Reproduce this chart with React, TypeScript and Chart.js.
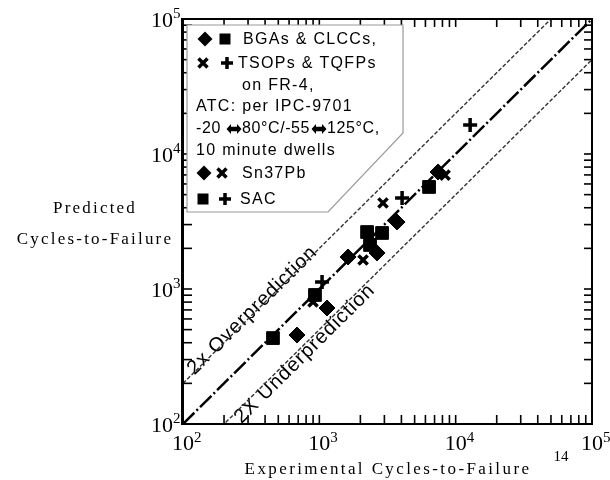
import React, { useEffect, useRef } from 'react';
import { Chart, registerables } from 'chart.js';

Chart.register(...registerables);

// ---- data ----
const SN_BGA_X = [686, 1138, 1625, 2650, 3715, 7430];
const SN_BGA_Y = [456, 723, 1726, 1849, 3133, 7360];
const SAC_BGA_X = [457, 929, 2240, 2885, 2355, 6380];
const SAC_BGA_Y = [433, 903, 2642, 2600, 2119, 5700];
const SN_TSOP_X = [899, 2093, 2931, 8360];
const SN_TSOP_Y = [802, 1640, 4337, 6980];
const SAC_TSOP_X = [1047, 4046, 12770];
const SAC_TSOP_Y = [1127, 4718, 16400];

const AXIS_MIN = 100;
const AXIS_MAX = 100000;
const DECADES = [100, 1000, 10000, 100000];
const DECADE_EXP = ['2', '3', '4', '5'];
const TICK_VALUES = [
  100, 200, 300, 400, 500, 600, 700, 800, 900,
  1000, 2000, 3000, 4000, 5000, 6000, 7000, 8000, 9000,
  10000, 20000, 30000, 40000, 50000, 60000, 70000, 80000, 90000,
  100000,
];
const LINE_X = [100, 100000];
const RATIO_ONE = 1;
const RATIO_OVER = 2;
const RATIO_UNDER = 0.5;

const X_TITLE = 'Experimental Cycles-to-Failure';
const Y_TITLE = ['Predicted', 'Cycles-to-Failure'];
const STRAY_TEXT = '14';
const OVER_TEXT = '2x Overprediction';
const UNDER_TEXT = '2X Underprediction';
const OVER_LABEL_X = 335;
const UNDER_LABEL_X = 720;

const LEGEND_TEXT = [
  'BGAs & CLCCs,',
  'TSOPs & TQFPs',
  'on FR-4,',
  'ATC: per IPC-9701',
  '',
  '10 minute dwells',
  'Sn37Pb',
  'SAC',
];
const ATC_PARTS = ['-20', '80\u00B0C/-55', '125\u00B0C,'];

// ---- layout (pixels) ----
const LEGEND_ROWS = [
  { y: 39, tx: 243, marks: [['diamond', 205], ['square', 225]] },
  { y: 63, tx: 238, marks: [['x', 203], ['plus', 227]] },
  { y: 85, tx: 242, marks: [] },
  { y: 106, tx: 196, marks: [] },
  { y: 128, tx: 196, marks: [] },
  { y: 150, tx: 196, marks: [] },
  { y: 173, tx: 242, marks: [['diamond', 204], ['x', 222]] },
  { y: 199, tx: 240, marks: [['square', 203], ['plus', 225]] },
];
const ATC_PART_X = [196, 242, 327];
const ATC_ARROW_X = [234, 319];
const LEGEND_POLY = [
  [187, 25], [403, 25], [403, 133], [328, 212], [187, 212],
];

function drawMark(ctx: CanvasRenderingContext2D, kind: string, x: number, y: number) {
  ctx.save();
  ctx.setLineDash([]);
  ctx.fillStyle = '#000';
  ctx.strokeStyle = '#000';
  if (kind === 'diamond') {
    const r = 7.5;
    ctx.beginPath();
    ctx.moveTo(x, y - r); ctx.lineTo(x + r, y); ctx.lineTo(x, y + r); ctx.lineTo(x - r, y);
    ctx.closePath(); ctx.fill();
  } else if (kind === 'square') {
    ctx.fillRect(x - 5.5, y - 5.5, 11, 11);
  } else if (kind === 'x') {
    const r = 4.5;
    ctx.lineWidth = 3.5;
    ctx.beginPath();
    ctx.moveTo(x - r, y - r); ctx.lineTo(x + r, y + r);
    ctx.moveTo(x + r, y - r); ctx.lineTo(x - r, y + r);
    ctx.stroke();
  } else if (kind === 'plus') {
    const r = 6;
    ctx.lineWidth = 3.5;
    ctx.beginPath();
    ctx.moveTo(x - r, y); ctx.lineTo(x + r, y);
    ctx.moveTo(x, y - r); ctx.lineTo(x, y + r);
    ctx.stroke();
  } else if (kind === 'arrow') {
    const hw = 7.5, hh = 5, sh = 2.2, head = 4.5;
    ctx.beginPath();
    ctx.moveTo(x - hw, y);
    ctx.lineTo(x - hw + head, y - hh);
    ctx.lineTo(x - hw + head, y - sh);
    ctx.lineTo(x + hw - head, y - sh);
    ctx.lineTo(x + hw - head, y - hh);
    ctx.lineTo(x + hw, y);
    ctx.lineTo(x + hw - head, y + hh);
    ctx.lineTo(x + hw - head, y + sh);
    ctx.lineTo(x - hw + head, y + sh);
    ctx.lineTo(x - hw + head, y + hh);
    ctx.closePath();
    ctx.fill();
  }
  ctx.restore();
}

const decoPlugin = {
  id: 'deco',
  beforeDatasetsDraw(chart: any) {
    const ctx: CanvasRenderingContext2D = chart.ctx;
    const xs = chart.scales.x;
    const ys = chart.scales.y;
    const area = chart.chartArea;
    ctx.save();
    ctx.beginPath();
    ctx.rect(area.left, area.top, area.right - area.left, area.bottom - area.top);
    ctx.clip();
    const labels = [
      { text: OVER_TEXT, x: OVER_LABEL_X, ratio: RATIO_OVER, off: -3 },
      { text: UNDER_TEXT, x: UNDER_LABEL_X, ratio: RATIO_UNDER, off: 7 },
    ];
    labels.forEach((l) => {
      const px = xs.getPixelForValue(l.x);
      const py = ys.getPixelForValue(l.x * l.ratio);
      const px2 = xs.getPixelForValue(l.x * 10);
      const py2 = ys.getPixelForValue(l.x * 10 * l.ratio);
      const ang = Math.atan2(py2 - py, px2 - px);
      ctx.save();
      ctx.translate(px, py);
      ctx.rotate(ang);
      ctx.font = '20px "Liberation Sans"';
      (ctx as any).letterSpacing = '1px';
      ctx.textAlign = 'center';
      ctx.textBaseline = 'middle';
      ctx.fillStyle = '#000';
      ctx.fillText(l.text, 0, l.off);
      ctx.restore();
    });
    ctx.restore();
  },
  afterDatasetsDraw(chart: any) {
    const ctx: CanvasRenderingContext2D = chart.ctx;
    const xs = chart.scales.x;
    const ys = chart.scales.y;

    ctx.save();
    ctx.setLineDash([]);
    ctx.beginPath();
    LEGEND_POLY.forEach(([x, y], i) => (i ? ctx.lineTo(x, y) : ctx.moveTo(x, y)));
    ctx.closePath();
    ctx.fillStyle = '#fff';
    ctx.fill();
    ctx.strokeStyle = '#9a9a9a';
    ctx.lineWidth = 1.2;
    ctx.stroke();
    ctx.restore();

    ctx.save();
    ctx.fillStyle = '#000';
    ctx.textBaseline = 'alphabetic';
    DECADES.forEach((d, i) => {
      const px = xs.getPixelForValue(d);
      ctx.font = '22px "Liberation Serif"';
      ctx.textAlign = 'left';
      const w = ctx.measureText('10').width;
      ctx.fillText('10', px - w / 2, 450);
      ctx.font = '15px "Liberation Serif"';
      ctx.fillText(DECADE_EXP[i], px + w / 2, 442);

      const py = ys.getPixelForValue(d);
      ctx.font = '22px "Liberation Serif"';
      ctx.textAlign = 'right';
      ctx.fillText('10', 173, py + 8);
      ctx.font = '15px "Liberation Serif"';
      ctx.textAlign = 'left';
      ctx.fillText(DECADE_EXP[i], 173, py - 1);
    });

    ctx.font = '17px "Liberation Serif"';
    (ctx as any).letterSpacing = '2.4px';
    ctx.textAlign = 'center';
    ctx.fillText(X_TITLE, 388, 474);
    (ctx as any).letterSpacing = '2.2px';
    ctx.fillText(Y_TITLE[0], 95, 213);
    ctx.fillText(Y_TITLE[1], 95, 244);
    (ctx as any).letterSpacing = '0px';
    ctx.font = '15px "Liberation Serif"';
    ctx.fillText(STRAY_TEXT, 561, 461);

    ctx.textAlign = 'left';
    ctx.textBaseline = 'middle';
    ctx.font = '16px "Liberation Sans"';
    (ctx as any).letterSpacing = '1.3px';
    LEGEND_ROWS.forEach((row, i) => {
      row.marks.forEach(([k, x]) => drawMark(ctx, k as string, x as number, row.y));
      if (LEGEND_TEXT[i]) ctx.fillText(LEGEND_TEXT[i], row.tx, row.y + 1);
    });
    const atcRow = LEGEND_ROWS[4];
    (ctx as any).letterSpacing = '0.6px';
    ATC_PARTS.forEach((t, i) => ctx.fillText(t, ATC_PART_X[i], atcRow.y + 1));
    ATC_ARROW_X.forEach((x) => drawMark(ctx, 'arrow', x, atcRow.y + 1));
    ctx.restore();
  },
  afterDraw(chart: any) {
    const ctx: CanvasRenderingContext2D = chart.ctx;
    const a = chart.chartArea;
    ctx.save();
    ctx.fillStyle = '#000';
    ctx.fillRect(a.left - 1, a.top - 1, a.right - a.left + 2, 2);
    ctx.fillRect(a.right - 1, a.top - 1, 2, a.bottom - a.top + 2);
    ctx.fillRect(a.left - 1, a.bottom - 1, a.right - a.left + 2, 2);
    ctx.fillRect(a.left - 2, a.top - 1, 3, a.bottom - a.top + 2);
    ctx.restore();
  },
};

function pts(xv: number[], yv: number[]) {
  return xv.map((x, i) => ({ x, y: yv[i] }));
}

function tickSet(label: string, data: { x: number; y: number }[], rotation: number, radius: number) {
  return {
    label,
    data,
    pointStyle: 'line',
    rotation,
    pointRadius: radius,
    borderColor: '#000',
    borderWidth: 1.6,
    clip: 0,
    order: 0,
  };
}

export default function App() {
  const ref = useRef<HTMLCanvasElement | null>(null);
  useEffect(() => {
    if (!ref.current) return;
    const chart = new Chart(ref.current, {
      type: 'scatter',
      data: {
        datasets: [
          {
            label: 'Sn37Pb BGAs & CLCCs',
            data: pts(SN_BGA_X, SN_BGA_Y),
            pointStyle: 'rectRot',
            pointRadius: 8,
            backgroundColor: '#000',
            borderColor: '#000',
            borderWidth: 1,
            order: 1,
          },
          {
            label: 'SAC BGAs & CLCCs',
            data: pts(SAC_BGA_X, SAC_BGA_Y),
            pointStyle: 'rect',
            pointRadius: 9,
            backgroundColor: '#000',
            borderColor: '#000',
            borderWidth: 1,
            order: 1,
          },
          {
            label: 'Sn37Pb TSOPs & TQFPs',
            data: pts(SN_TSOP_X, SN_TSOP_Y),
            pointStyle: 'crossRot',
            pointRadius: 6.5,
            borderColor: '#000',
            borderWidth: 3.5,
            order: 1,
          },
          {
            label: 'SAC TSOPs & TQFPs',
            data: pts(SAC_TSOP_X, SAC_TSOP_Y),
            pointStyle: 'cross',
            pointRadius: 7,
            borderColor: '#000',
            borderWidth: 3.5,
            order: 1,
          },
          {
            label: '1:1',
            data: LINE_X.map((x) => ({ x, y: x * RATIO_ONE })),
            showLine: true,
            pointRadius: 0,
            borderColor: '#000',
            borderWidth: 2.5,
            borderDash: [16, 3, 2, 3],
            order: 5,
          },
          {
            label: '2x over',
            data: LINE_X.map((x) => ({ x, y: x * RATIO_OVER })),
            showLine: true,
            pointRadius: 0,
            borderColor: '#333',
            borderWidth: 1.4,
            borderDash: [4, 2],
            order: 5,
          },
          {
            label: '2x under',
            data: LINE_X.map((x) => ({ x, y: x * RATIO_UNDER })),
            showLine: true,
            pointRadius: 0,
            borderColor: '#333',
            borderWidth: 1.4,
            borderDash: [4, 2],
            order: 5,
          },
          tickSet('ticks bottom', TICK_VALUES.map((v) => ({ x: v, y: AXIS_MIN })), 90, 9),
          tickSet('ticks top', TICK_VALUES.map((v) => ({ x: v, y: AXIS_MAX })), 90, 8),
          tickSet('ticks left', TICK_VALUES.map((v) => ({ x: AXIS_MIN, y: v })), 0, 9),
          tickSet('ticks right', TICK_VALUES.map((v) => ({ x: AXIS_MAX, y: v })), 0, 8),
        ],
      },
      options: {
        animation: false,
        responsive: false,
        layout: { padding: { left: 183, top: 19, right: 18, bottom: 56 } },
        plugins: { legend: { display: false }, tooltip: { enabled: false } },
        scales: {
          x: { type: 'logarithmic', min: AXIS_MIN, max: AXIS_MAX, display: false },
          y: { type: 'logarithmic', min: AXIS_MIN, max: AXIS_MAX, display: false },
        },
      },
      plugins: [decoPlugin],
    } as any);
    return () => chart.destroy();
  }, []);
  return (
    <div style={{ position: 'fixed', left: 0, top: 0, width: 610, height: 480, background: '#fff' }}>
      <canvas ref={ref} width={610} height={480} style={{ display: 'block' }} />
    </div>
  );
}
